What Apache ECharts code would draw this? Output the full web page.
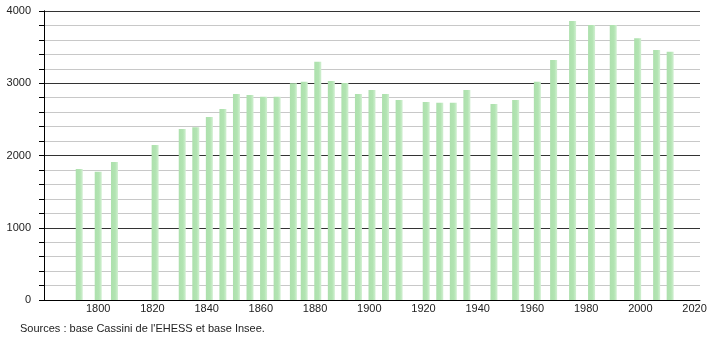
<!DOCTYPE html>
<html>
<head>
<meta charset="utf-8">
<script src="https://cdn.jsdelivr.net/npm/echarts@6/dist/echarts.min.js"></script>
<style>
html,body{margin:0;padding:0;background:#fff;}
#c{width:710px;height:340px;}
</style>
</head>
<body>
<div id="c"></div>
<script>
const years = [1793,1800,1806,1821,1831,1836,1841,1846,1851,1856,1861,1866,1872,1876,1881,1886,1891,1896,1901,1906,1911,1921,1926,1931,1936,1946,1954,1962,1968,1975,1982,1990,1999,2006,2011];
const population = [1813,1776,1910,2145,2367,2390,2533,2644,2851,2837,2814,2814,2999,3022,3299,3031,3003,2851,2907,2851,2768,2740,2731,2731,2907,2713,2768,3022,3322,3862,3806,3806,3622,3460,3437];
const sourceText = "Sources : base Cassini de l'EHESS et base Insee.";

const chart = echarts.init(document.getElementById('c'), null, {renderer:'canvas'});
const font = 'Liberation Sans, Arial, sans-serif';
chart.setOption({
  animation: false,
  backgroundColor: '#fff',
  grid: {left: 44, right: 10, top: 11, bottom: 40, containLabel: false},
  xAxis: {
    type: 'value', min: 1780, max: 2022, interval: 20,
    axisLine: {show: true, lineStyle: {color: '#000', width: 1}},
    axisTick: {show: false},
    splitLine: {show: false},
    axisLabel: {showMinLabel: false, showMaxLabel: false, color: '#222', fontFamily: font, fontSize: 11, margin: 3,
      formatter: v => String(v)}
  },
  yAxis: [
    {
      type: 'value', min: 0, max: 4000, interval: 200, position: 'left',
      axisLine: {show: true, lineStyle: {color: '#000', width: 1}},
      axisTick: {show: true, length: 5, lineStyle: {color: '#000'}},
      axisLabel: {show: false},
      splitLine: {show: true, lineStyle: {color: '#c8c8c8', width: 1}}
    },
    {
      type: 'value', min: 0, max: 4000, interval: 1000, position: 'left',
      axisLine: {show: true, lineStyle: {color: '#000', width: 1}},
      axisTick: {show: true, length: 5, lineStyle: {color: '#000'}},
      axisLabel: {color: '#222', fontFamily: font, fontSize: 11, margin: 13, formatter: v => String(v)},
      splitLine: {show: true, lineStyle: {color: '#333', width: 1}}
    }
  ],
  series: [{
    type: 'bar',
    yAxisIndex: 1,
    barWidth: 7,
    data: years.map((y, i) => [y, population[i]]),
    itemStyle: {
      color: new echarts.graphic.LinearGradient(0, 0, 1, 0, [
        {offset: 0, color: '#ade0ad'},
        {offset: 0.6, color: '#b2e4b2'},
        {offset: 1, color: '#d2f0d2'}
      ])
    },
    z: 5
  }],
  graphic: [{
    type: 'text', left: 20, top: 323,
    style: {text: sourceText, fontFamily: font, fontSize: 11, fill: '#222'}
  }]
});
</script>
</body>
</html>
